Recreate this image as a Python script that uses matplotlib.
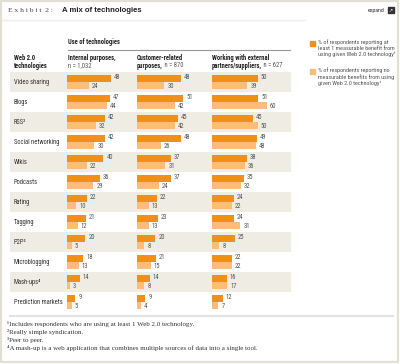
import matplotlib.pyplot as plt
from matplotlib.patches import Rectangle

plt.rcParams['font.family'] = ['Roboto Condensed', 'DejaVu Sans']

# Data
technologies = ["Video sharing", "Blogs", "RSS²", "Social networking", "Wikis",
                "Podcasts", "Rating", "Tagging", "P2P³", "Microblogging",
                "Mash-ups⁴", "Prediction markets"]
internal_benefit = [48, 47, 42, 42, 40, 36, 22, 21, 20, 18, 14, 9]
internal_none = [24, 44, 32, 30, 22, 29, 10, 12, 5, 13, 3, 5]
customer_benefit = [48, 51, 45, 48, 37, 37, 22, 23, 20, 21, 14, 9]
customer_none = [30, 42, 42, 26, 31, 24, 13, 13, 8, 15, 8, 4]
external_benefit = [50, 51, 45, 49, 38, 35, 24, 24, 25, 22, 16, 12]
external_none = [39, 60, 50, 48, 36, 32, 22, 31, 8, 22, 17, 7]

DARK = '#f18f1b'
LIGHT = '#fbbd78'
BAND = '#efede3'
GRAY = '#555555'
FS = 4.7

W, H = 400, 364
fig = plt.figure(figsize=(4.0, 3.64), dpi=100)

# background axes in pixel coords
bg = fig.add_axes([0, 0, 1, 1])
bg.set_xlim(0, W)
bg.set_ylim(H, 0)
bg.axis('off')

bg.add_patch(Rectangle((1, 1), W - 3, H - 3, fill=False, ec='#e2dfd3', lw=1.6))
bg.plot([2, 305], [19.5, 19.5], color='#eeeeee', lw=1)
bg.text(8, 11, "E x h i b i t  2 :", family=['Liberation Serif', 'DejaVu Serif'],
        fontsize=5.4, color='#444444', va='center')
bg.text(62, 11, "A mix of technologies", family=['Liberation Sans', 'DejaVu Sans'],
        fontsize=5.6, fontweight='bold', color='#222222', va='center')
bg.text(384, 10.5, "expand", fontsize=4.2, color='#333333', va='center', ha='right')
bg.add_patch(Rectangle((387.5, 7), 6, 6, color='#333333'))
bg.text(390.5, 10, "↗", family='DejaVu Sans', fontsize=3.5, color='white', ha='center', va='center')

# headers
bg.text(68, 42, "Use of technologies", fontsize=FS, fontweight='bold', color='#222222', va='center')
bg.plot([68, 290], [50, 50], color='#999999', lw=0.8)

bg.text(14, 57.5, "Web 2.0", fontsize=FS, fontweight='bold', color='#222222', va='center')
bg.text(14, 65.5, "technologies", fontsize=FS, fontweight='bold', color='#222222', va='center')

bg.text(68, 57.5, "Internal purposes,", fontsize=FS, fontweight='bold', color='#222222', va='center')
bg.text(68, 65.5, "n = 1,032", fontsize=FS, color=GRAY, va='center')

bg.text(137, 57.5, "Customer-related", fontsize=FS, fontweight='bold', color='#222222', va='center')
t = bg.text(137, 65.5, "purposes,", fontsize=FS, fontweight='bold', color='#222222', va='center')
bg.annotate(" n = 870", xy=(1, 0.5), xycoords=t, fontsize=FS, color=GRAY, va='center')

bg.text(212, 57.5, "Working with external", fontsize=FS, fontweight='bold', color='#222222', va='center')
t = bg.text(212, 65.5, "partners/suppliers,", fontsize=FS, fontweight='bold', color='#222222', va='center')
bg.annotate(" n = 627", xy=(1, 0.5), xycoords=t, fontsize=FS, color=GRAY, va='center')

# legend
bg.add_patch(Rectangle((309.5, 40.5), 5, 5, color=DARK))
bg.add_patch(Rectangle((309.5, 68.5), 5, 5, color=LIGHT))
bg.text(318, 39.5, "% of respondents reporting at\nleast 1 measurable benefit from\nusing given Web 2.0 technology¹",
        fontsize=4.4, color=GRAY, va='top', linespacing=1.2)
bg.text(318, 67.5, "% of respondents reporting no\nmeasurable benefits from using\ngiven Web 2.0 technology¹",
        fontsize=4.4, color=GRAY, va='top', linespacing=1.2)

# footnotes
bg.plot([10, 393], [316, 316], color='#e3e3e3', lw=1.5)
notes = ["¹Includes respondents who are using at least 1 Web 2.0 technology.",
         "²Really simple syndication.",
         "³Peer to peer.",
         "⁴A mash-up is a web application that combines multiple sources of data into a single tool."]
for k, note in enumerate(notes):
    bg.text(7, 324 + 8 * k, note, family=['Liberation Serif', 'DejaVu Serif'],
            fontsize=5.0, color='#333333', va='center')

n = len(technologies)
top, bottom = 72, 312


def px_axes(x0, x1):
    return fig.add_axes([x0 / W, 1 - bottom / H, (x1 - x0) / W, (bottom - top) / H])


# row bands + category labels
rows = px_axes(10, 291)
rows.set_xlim(0, 281)
rows.set_ylim(n, 0)
rows.axis('off')
for i, name in enumerate(technologies):
    if i % 2 == 0:
        rows.axhspan(i, i + 1, color=BAND, lw=0)
    rows.text(4, i + 0.5, name, fontsize=FS, color='#333333', va='center')

# bar panels
scale = 0.91  # px per percent
panels = [(67, internal_benefit, internal_none),
          (137, customer_benefit, customer_none),
          (212, external_benefit, external_none)]
for x0, benefit, none in panels:
    ax = px_axes(x0, x0 + 70)
    ax.set_xlim(0, 70 / scale)
    ax.set_ylim(n, 0)
    ax.axis('off')
    ax.patch.set_alpha(0)
    ypos = [i + 0.325 for i in range(n)]
    ypos2 = [i + 0.675 for i in range(n)]
    ax.barh(ypos, benefit, height=0.35, color=DARK, lw=0)
    ax.barh(ypos2, none, height=0.35, color=LIGHT, lw=0)
    for i in range(n):
        ax.text(benefit[i] + 3 / scale, ypos[i] - 0.05, str(benefit[i]), fontsize=FS,
                color=GRAY, va='center', clip_on=False)
        ax.text(none[i] + 3 / scale, ypos2[i] + 0.05, str(none[i]), fontsize=FS,
                color=GRAY, va='center', clip_on=False)

fig.savefig("out.png", dpi=100)
